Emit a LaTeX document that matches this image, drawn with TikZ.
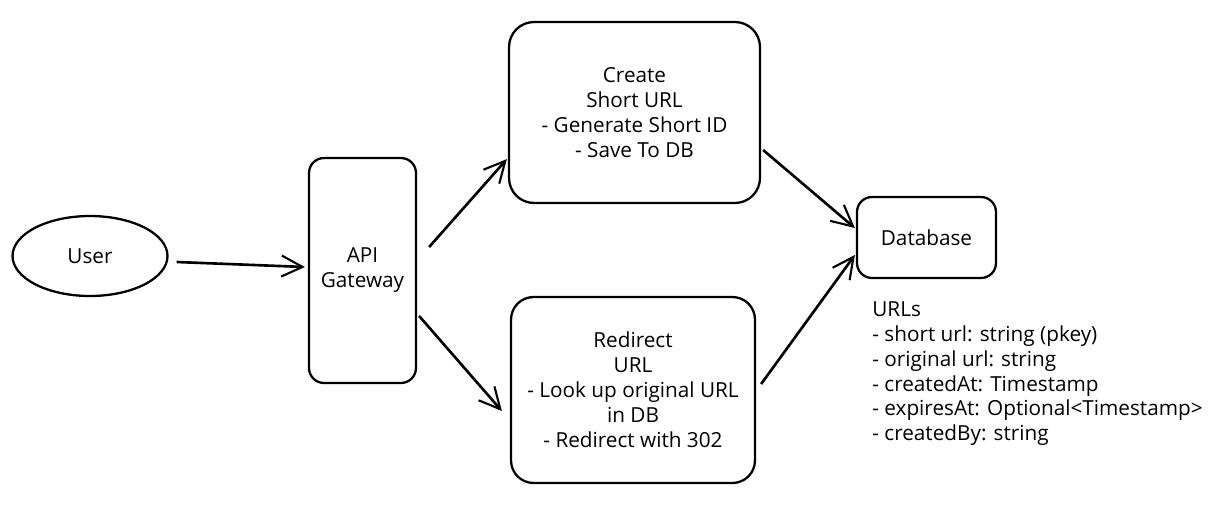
\documentclass[tikz,border=0pt]{standalone}
\usepackage{fontspec}
\setmainfont{Open Sans}
\usetikzlibrary{shapes.geometric, arrows.meta}
\tikzset{
    every node/.style={font=\fontsize{11.8}{14.2}\selectfont},
    sketchbox/.style={draw, line width=1.3pt, rounded corners=#1, align=center, inner sep=0pt},
    flowarrow/.style={-{Straight Barb[length=12pt, width=12pt, line width=1.2pt]}, line width=1.5pt},
}

\begin{document}
\begin{tikzpicture}[x=0.02cm, y=-0.02cm]
    \useasboundingbox (0, 0) rectangle (1218, 508);
    \node[ellipse, draw, line width=1.3pt, minimum width=3.1cm, minimum height=1.6cm, inner sep=0pt]
        (user) at (90, 256) {User};
    \node[sketchbox=0.3cm, minimum width=2.14cm, minimum height=4.5cm]
        (api) at (362.5, 270.5) {API\\Gateway};
    \node[sketchbox=0.5cm, minimum width=5.02cm, minimum height=3.62cm]
        (create) at (634.5, 112.5) {Create\\Short URL\\- Generate Short ID\\- Save To DB};
    \node[sketchbox=0.45cm, minimum width=4.88cm, minimum height=3.72cm]
        (redirect) at (633, 390) {Redirect\\URL\\- Look up original URL\\in DB\\- Redirect with 302};
    \node[sketchbox=0.3cm, minimum width=2.78cm, minimum height=1.62cm]
        (db) at (926.5, 237.5) {Database};
    \node[anchor=north west, align=left, inner sep=0pt] (schema) at (872, 301)
        {URLs\\- short url: string (pkey)\\- original url: string\\- createdAt: Timestamp\\- expiresAt: Optional<Timestamp>\\- createdBy: string};
    % connectors
    \draw[flowarrow] ([shift={(8, 6)}]user.east) -- ([shift={(-3, -3.5)}]api.west);
    \draw[flowarrow] ([shift={(12, -23.5)}]api.east) -- ([shift={(-1, -45)}]create.south west);
    \draw[flowarrow] ([shift={(2, 45.5)}]api.east) -- ([shift={(-8, 21)}]redirect.west);
    \draw[flowarrow] ([shift={(2, 37.5)}]create.east) -- ([shift={(-1, -9.5)}]db.west);
    \draw[flowarrow] ([shift={(5, -6)}]redirect.east) -- ([shift={(-1, 17.5)}]db.west);
\end{tikzpicture}
\end{document}
